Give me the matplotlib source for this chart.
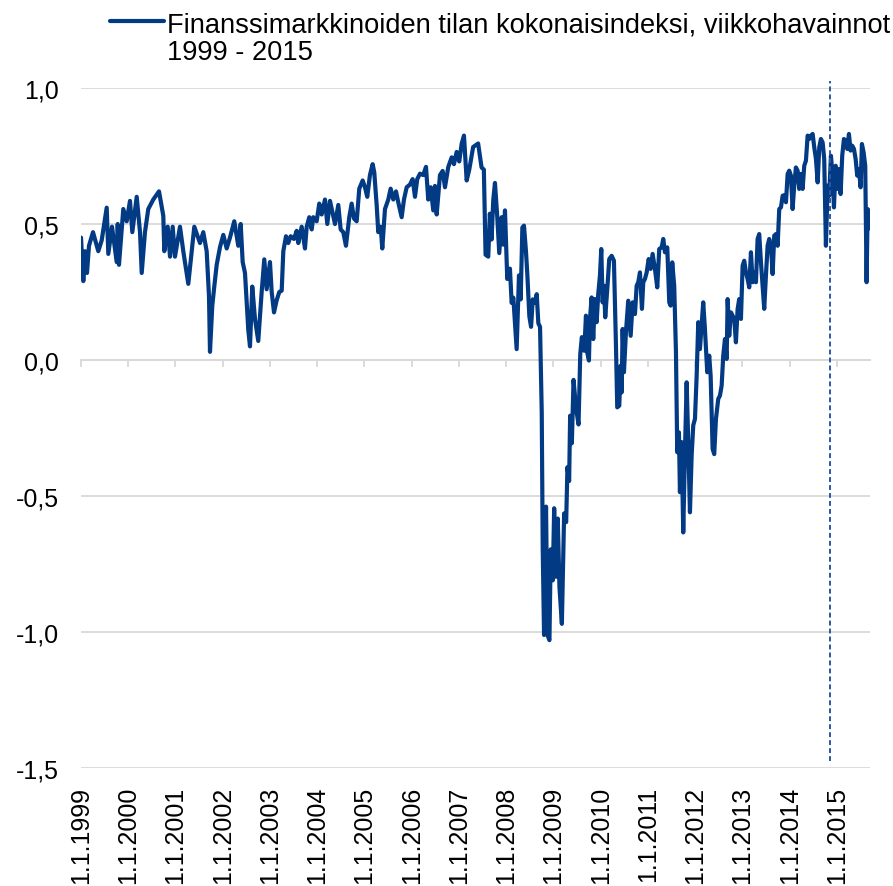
import matplotlib
matplotlib.use("Agg")
import matplotlib.pyplot as plt

plt.rcParams['font.family'] = ['Liberation Sans', 'DejaVu Sans']

# weekly index (decimal year, value)
obs_year = [
    1999.000, 1999.049, 1999.085, 1999.127, 1999.169, 1999.254, 1999.366, 1999.438, 1999.544, 1999.578,
    1999.656, 1999.756, 1999.777, 1999.804, 1999.895, 1999.967, 2000.037, 2000.086, 2000.179, 2000.249,
    2000.285, 2000.354, 2000.424, 2000.530, 2000.651, 2000.742, 2000.763, 2000.835, 2000.884, 2000.941,
    2000.989, 2001.095, 2001.165, 2001.271, 2001.398, 2001.519, 2001.588, 2001.660, 2001.709, 2001.730,
    2001.779, 2001.821, 2001.872, 2001.942, 2002.012, 2002.084, 2002.153, 2002.244, 2002.329, 2002.380,
    2002.422, 2002.471, 2002.541, 2002.577, 2002.625, 2002.683, 2002.752, 2002.824, 2002.879, 2002.930,
    2003.000, 2003.036, 2003.085, 2003.142, 2003.197, 2003.248, 2003.282, 2003.339, 2003.387, 2003.438,
    2003.508, 2003.565, 2003.599, 2003.671, 2003.741, 2003.777, 2003.832, 2003.883, 2003.916, 2003.988,
    2004.043, 2004.094, 2004.164, 2004.213, 2004.270, 2004.327, 2004.376, 2004.446, 2004.496, 2004.551,
    2004.608, 2004.678, 2004.729, 2004.778, 2004.835, 2004.890, 2004.962, 2005.011, 2005.059, 2005.116,
    2005.173, 2005.207, 2005.258, 2005.292, 2005.343, 2005.377, 2005.434, 2005.504, 2005.554, 2005.610,
    2005.667, 2005.715, 2005.787, 2005.836, 2005.893, 2005.963, 2006.020, 2006.069, 2006.117, 2006.175,
    2006.244, 2006.302, 2006.350, 2006.401, 2006.456, 2006.492, 2006.528, 2006.598, 2006.655, 2006.704,
    2006.774, 2006.846, 2006.894, 2006.951, 2007.006, 2007.057, 2007.106, 2007.163, 2007.218, 2007.300,
    2007.406, 2007.478, 2007.527, 2007.563, 2007.620, 2007.654, 2007.690, 2007.726, 2007.762, 2007.811,
    2007.853, 2007.904, 2007.938, 2007.974, 2008.022, 2008.079, 2008.115, 2008.151, 2008.221, 2008.270,
    2008.306, 2008.342, 2008.376, 2008.418, 2008.448, 2008.490, 2008.526, 2008.562, 2008.610, 2008.646,
    2008.680, 2008.716, 2008.752, 2008.773, 2008.801, 2008.843, 2008.873, 2008.915, 2008.943, 2008.985,
    2009.015, 2009.057, 2009.091, 2009.127, 2009.178, 2009.226, 2009.269, 2009.296, 2009.332, 2009.353,
    2009.389, 2009.425, 2009.480, 2009.531, 2009.567, 2009.601, 2009.652, 2009.667, 2009.688, 2009.715,
    2009.751, 2009.772, 2009.808, 2009.842, 2009.878, 2009.914, 2009.948, 2009.984, 2010.012, 2010.041,
    2010.069, 2010.096, 2010.139, 2010.181, 2010.232, 2010.280, 2010.323, 2010.350, 2010.393, 2010.422,
    2010.443, 2010.464, 2010.492, 2010.534, 2010.583, 2010.634, 2010.676, 2010.725, 2010.761, 2010.795,
    2010.831, 2010.873, 2010.901, 2010.937, 2010.973, 2011.015, 2011.057, 2011.099, 2011.148, 2011.197,
    2011.239, 2011.290, 2011.324, 2011.360, 2011.409, 2011.451, 2011.480, 2011.514, 2011.556, 2011.593,
    2011.620, 2011.656, 2011.677, 2011.713, 2011.747, 2011.783, 2011.819, 2011.853, 2011.889, 2011.925,
    2011.959, 2011.995, 2012.031, 2012.065, 2012.100, 2012.136, 2012.170, 2012.206, 2012.255, 2012.297,
    2012.327, 2012.369, 2012.403, 2012.439, 2012.488, 2012.524, 2012.560, 2012.594, 2012.630, 2012.666,
    2012.687, 2012.720, 2012.757, 2012.793, 2012.827, 2012.862, 2012.898, 2012.932, 2012.968, 2013.004,
    2013.038, 2013.074, 2013.110, 2013.144, 2013.180, 2013.216, 2013.250, 2013.286, 2013.321, 2013.355,
    2013.392, 2013.427, 2013.461, 2013.497, 2013.533, 2013.567, 2013.603, 2013.639, 2013.673, 2013.709,
    2013.745, 2013.779, 2013.815, 2013.851, 2013.885, 2013.921, 2013.957, 2013.991, 2014.026, 2014.062,
    2014.096, 2014.132, 2014.168, 2014.202, 2014.238, 2014.274, 2014.308, 2014.344, 2014.380, 2014.414,
    2014.450, 2014.486, 2014.520, 2014.556, 2014.592, 2014.626, 2014.661, 2014.697, 2014.731, 2014.767,
    2014.803, 2014.837, 2014.873, 2014.909, 2014.937, 2014.973, 2015.007, 2015.042, 2015.078, 2015.112,
    2015.148, 2015.184, 2015.218, 2015.254, 2015.289, 2015.323, 2015.360, 2015.396, 2015.429, 2015.466,
    2015.501, 2015.529, 2015.565, 2015.599, 2015.628, 2015.650, 2015.694, 2015.720,
]
index_value = [
    0.45, 0.29, 0.40, 0.32, 0.42, 0.47, 0.40, 0.44, 0.56, 0.39,
    0.49, 0.36, 0.50, 0.35, 0.555, 0.51, 0.585, 0.47, 0.60, 0.47,
    0.32, 0.47, 0.555, 0.59, 0.62, 0.53, 0.40, 0.49, 0.38, 0.49,
    0.38, 0.49, 0.40, 0.28, 0.49, 0.43, 0.47, 0.40, 0.235, 0.03,
    0.20, 0.27, 0.35, 0.415, 0.46, 0.41, 0.45, 0.51, 0.42, 0.50,
    0.36, 0.32, 0.11, 0.05, 0.27, 0.15, 0.07, 0.25, 0.37, 0.26,
    0.36, 0.25, 0.175, 0.22, 0.25, 0.255, 0.40, 0.455, 0.43, 0.455,
    0.445, 0.475, 0.43, 0.49, 0.41, 0.49, 0.525, 0.48, 0.525, 0.51,
    0.575, 0.535, 0.59, 0.50, 0.585, 0.54, 0.50, 0.57, 0.48, 0.47,
    0.42, 0.525, 0.575, 0.52, 0.51, 0.63, 0.66, 0.635, 0.60, 0.68,
    0.72, 0.69, 0.57, 0.47, 0.49, 0.41, 0.555, 0.59, 0.63, 0.59,
    0.62, 0.58, 0.525, 0.59, 0.635, 0.645, 0.665, 0.60, 0.665, 0.685,
    0.68, 0.71, 0.59, 0.635, 0.55, 0.64, 0.535, 0.68, 0.695, 0.635,
    0.71, 0.745, 0.72, 0.765, 0.73, 0.795, 0.825, 0.66, 0.70, 0.783,
    0.796, 0.708, 0.70, 0.387, 0.38, 0.538, 0.443, 0.588, 0.651, 0.525,
    0.393, 0.525, 0.424, 0.55, 0.298, 0.336, 0.21, 0.229, 0.04, 0.311,
    0.223, 0.487, 0.494, 0.40, 0.311, 0.16, 0.122, 0.223, 0.21, 0.242,
    0.135, 0.122, -0.193, -0.696, -1.011, -0.539, -1.011, -1.03, -0.696, -0.81,
    -0.545, -0.797, -0.583, -0.835, -0.97, -0.564, -0.596, -0.394, -0.445, -0.205,
    -0.306, -0.073, -0.18, -0.237, 0.021, 0.084, 0.034, 0.089, 0.163, 0.028,
    -0.002, 0.15, 0.23, 0.077, 0.224, 0.139, 0.243, 0.31, 0.408, 0.212,
    0.273, 0.157, 0.261, 0.371, 0.383, 0.365, 0.053, -0.174, -0.168, -0.021,
    -0.119, 0.114, -0.045, 0.102, 0.218, 0.089, 0.212, 0.169, 0.273, 0.286,
    0.322, 0.188, 0.286, 0.298, 0.322, 0.371, 0.335, 0.39, 0.335, 0.267,
    0.408, 0.414, 0.445, 0.396, 0.414, 0.212, 0.20, 0.359, 0.273, 0.028,
    -0.339, -0.266, -0.486, -0.302, -0.634, -0.339, -0.082, -0.302, -0.56, -0.35,
    -0.24, -0.217, -0.058, 0.139, 0.04, 0.126, 0.212, 0.114, -0.045, 0.016,
    -0.058, -0.327, -0.346, -0.217, -0.143, -0.131, -0.094, 0.016, 0.077, 0.004,
    0.224, 0.089, 0.175, 0.163, 0.151, 0.065, 0.188, 0.224, 0.151, 0.347,
    0.365, 0.322, 0.298, 0.267, 0.396, 0.286, 0.322, 0.286, 0.445, 0.463,
    0.359, 0.273, 0.188, 0.31, 0.42, 0.445, 0.42, 0.316, 0.457, 0.463,
    0.42, 0.555, 0.561, 0.604, 0.606, 0.58, 0.684, 0.696, 0.678, 0.555,
    0.641, 0.708, 0.696, 0.629, 0.684, 0.629, 0.714, 0.733, 0.825, 0.8125,
    0.825, 0.831, 0.782, 0.739, 0.653, 0.782, 0.8125, 0.80, 0.739, 0.42,
    0.641, 0.604, 0.751, 0.678, 0.561, 0.714, 0.629, 0.702, 0.61, 0.751,
    0.8125, 0.806, 0.776, 0.831, 0.77, 0.788, 0.776, 0.739, 0.678, 0.702,
    0.635, 0.794, 0.763, 0.714, 0.286, 0.555, 0.543, 0.482,
]

tick_years = list(range(1999, 2016))
tick_labels = [f"1.1.{y}" for y in tick_years]
y_ticks = [-1.5, -1.0, -0.5, 0.0, 0.5, 1.0]
y_tick_labels = ["-1,5", "-1,0", "-0,5", "0,0", "0,5", "1,0"]
marker_date = 2014.85
series_label = "Finanssimarkkinoiden tilan kokonaisindeksi, viikkohavainnot"
series_period = "1999 - 2015"

navy = '#023a84'
grid_grey = '#d9d9d9'

fig = plt.figure(figsize=(8.93, 8.87), dpi=100)
ax = fig.add_axes([81/893, 1 - 769/887, (870 - 81)/893, (769 - 89)/887])

line, = ax.plot(obs_year, index_value, color=navy, lw=3.0, solid_joinstyle='round',
                solid_capstyle='round', label=series_label)
ax.axvline(marker_date, ymin=0.01, ymax=1.011, clip_on=False, color='#2a58a2', lw=1.4, ls=(0, (2.5, 1.6)))

ax.set_xlim(1999, 2015.70)
ax.set_ylim(-1.5, 1.0)
ax.set_yticks(y_ticks, labels=y_tick_labels)
ax.grid(axis='y', color=grid_grey, lw=1.3)
ax.set_axisbelow(True)
ax.tick_params(axis='y', length=0, pad=16, labelsize=18)

for side in ['top', 'left', 'right']:
    ax.spines[side].set_visible(False)
ax.spines['bottom'].set_position(('data', 0))
ax.spines['bottom'].set_color(grid_grey)
ax.spines['bottom'].set_linewidth(1.3)
ax.spines['bottom'].set_zorder(0.5)
ax.set_xticks(tick_years)
ax.tick_params(axis='x', direction='out', length=5, width=1.3, color=grid_grey, labelbottom=False)

sec = ax.secondary_xaxis(0.0)
sec.set_xticks(tick_years, labels=tick_labels, rotation=90)
sec.tick_params(length=0, pad=13, labelsize=18)
sec.spines['bottom'].set_visible(False)

leg = fig.legend(handles=[line], loc='center left', bbox_to_anchor=(110/893, 1 - 25/887), frameon=False,
                 fontsize=19.6, handlelength=2.0, handletextpad=0.08, borderpad=0, borderaxespad=0)
leg.get_lines()[0].set_linewidth(3.0)
fig.text(167/893, 1 - 53/887, series_period, fontsize=19.6, ha='left', va='center')

fig.savefig('out.png', dpi=100)
